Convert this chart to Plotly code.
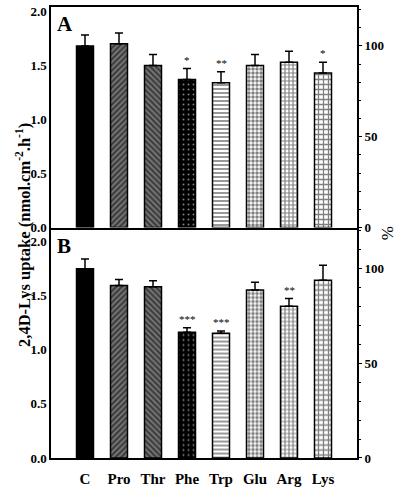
import plotly.graph_objects as go

cats = ["C", "Pro", "Thr", "Phe", "Trp", "Glu", "Arg", "Lys"]
a_vals = [1.68, 1.70, 1.50, 1.37, 1.34, 1.50, 1.53, 1.43]
a_err = [0.10, 0.10, 0.10, 0.10, 0.10, 0.10, 0.10, 0.10]
a_sig = ["", "", "", "*", "**", "", "", "*"]
b_vals = [1.745, 1.59, 1.58, 1.16, 1.15, 1.55, 1.40, 1.64]
b_err = [0.09, 0.055, 0.055, 0.04, 0.02, 0.07, 0.07, 0.137]
b_sig = ["", "", "", "***", "***", "", "**", ""]
y_ticks = [0, 0.5, 1.0, 1.5, 2.0]
pct_ticks = [0, 50, 100]

xs = list(range(1, len(cats) + 1))
SERIF = "Liberation Serif"

patterns = [
    dict(shape="", bgcolor="black"),
    dict(shape="/", fgcolor="black", bgcolor="#7a7a7a", size=4, solidity=0.55),
    dict(shape="\\", fgcolor="black", bgcolor="#7a7a7a", size=4, solidity=0.55),
    dict(shape=".", fgcolor="white", bgcolor="black", size=5, solidity=0.12),
    dict(shape="-", fgcolor="black", bgcolor="white", size=4, solidity=0.4),
    dict(shape=".", fgcolor="black", bgcolor="white", size=4, solidity=0.6),
    dict(shape="+", fgcolor="black", bgcolor="white", size=4, solidity=0.5),
    dict(shape="+", fgcolor="black", bgcolor="white", size=5, solidity=0.45),
]

fig = go.Figure()
star_anns = []

def add_panel(vals, errs, sig, xa, ya, yp):
    for i in range(len(cats)):
        fig.add_trace(go.Bar(
            x=[xs[i]], y=[vals[i]], width=0.5,
            marker=dict(color=patterns[i]["bgcolor"],
                        line=dict(color="black", width=1.5),
                        pattern=patterns[i]),
            error_y=dict(type="data", array=[errs[i]], arrayminus=[0],
                         symmetric=False, color="black", thickness=1.5, width=4),
            xaxis=xa, yaxis=ya, showlegend=False, hoverinfo="skip"))
        if sig[i]:
            star_anns.append(dict(text=sig[i], x=xs[i], y=vals[i] + errs[i],
                                  xref=xa, yref=ya, yanchor="bottom", showarrow=False,
                                  yshift=1,
                                  font=dict(family=SERIF, size=11, color="black")))
    ctrl = vals[0]
    fig.add_trace(go.Scatter(x=xs, y=[v / ctrl * 100 for v in vals], mode="markers",
                             marker=dict(opacity=0, color="white"), xaxis=xa, yaxis=yp,
                             showlegend=False, hoverinfo="skip"))

add_panel(a_vals, a_err, a_sig, "x", "y", "y3")
add_panel(b_vals, b_err, b_sig, "x2", "y2", "y4")

a_top = 2.04
b_top = 2.125
split = 0.511

line_style = dict(showline=True, linecolor="black", linewidth=1.5,
                  showgrid=False, zeroline=False)
ytick_font = dict(family=SERIF, size=13, color="black", weight="bold")

fig.update_layout(
    width=400, height=491,
    margin=dict(l=51, r=43, t=4, b=32),
    paper_bgcolor="white", plot_bgcolor="white",
    barmode="overlay",
    xaxis=dict(domain=[0, 1], anchor="y", range=[0, 9], showticklabels=False,
               ticks="", mirror=True, **line_style),
    yaxis=dict(domain=[split, 1], anchor="x", range=[0, a_top], tickvals=y_ticks,
               tickformat=".1f", ticks="", tickfont=ytick_font, mirror=True, **line_style),
    xaxis2=dict(domain=[0, 1], anchor="y2", range=[0, 9], tickvals=xs, ticktext=cats,
                ticks="", ticklabelstandoff=6, mirror=False,
                tickfont=dict(family=SERIF, size=15, color="black", weight="bold"),
                **line_style),
    yaxis2=dict(domain=[0, split], anchor="x2", range=[0, b_top], tickvals=y_ticks,
                tickformat=".1f", ticks="", tickfont=ytick_font, mirror=True, **line_style),
    yaxis3=dict(overlaying="y", side="right", anchor="x",
                range=[0, a_top / a_vals[0] * 100], tickvals=pct_ticks,
                ticks="outside", ticklen=4, tickwidth=1.2, tickcolor="black",
                minor=dict(dtick=10, ticks="outside", ticklen=3, tickcolor="black"),
                showgrid=False, zeroline=False, showline=False, tickfont=ytick_font),
    yaxis4=dict(overlaying="y2", side="right", anchor="x2",
                range=[0, b_top / b_vals[0] * 100], tickvals=pct_ticks,
                ticks="outside", ticklen=4, tickwidth=1.2, tickcolor="black",
                minor=dict(dtick=10, ticks="outside", ticklen=3, tickcolor="black"),
                showgrid=False, zeroline=False, showline=False, tickfont=ytick_font),
    annotations=[
        dict(text="2,4D-Lys uptake (nmol.cm<sup>-2</sup>.h<sup>-1</sup>)",
             xref="paper", yref="paper", x=-0.13, y=0.494, textangle=-90,
             showarrow=False, font=dict(family=SERIF, size=16.5, color="black", weight="bold")),
        dict(text="%", xref="paper", yref="paper", x=1.14, y=0.499, textangle=-90,
             showarrow=False, font=dict(family=SERIF, size=17, color="black")),
        dict(text="A", xref="paper", yref="paper", x=0.012, y=0.993, xanchor="left",
             yanchor="top", showarrow=False,
             font=dict(family=SERIF, size=21, color="black", weight="bold")),
        dict(text="B", xref="paper", yref="paper", x=0.012, y=0.502, xanchor="left",
             yanchor="top", showarrow=False,
             font=dict(family=SERIF, size=21, color="black", weight="bold")),
    ] + star_anns,
)

fig.write_html("out.html", config={"displayModeBar": False},
               post_script="document.body.style.margin='0px';")
